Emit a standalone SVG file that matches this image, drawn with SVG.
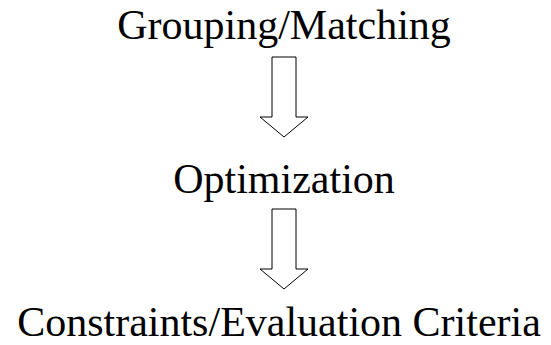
<svg xmlns="http://www.w3.org/2000/svg" width="551" height="345" viewBox="0 0 551 345">
<style>
text{font-family:"Liberation Serif","Times New Roman",serif;font-size:42px;fill:#000;text-anchor:middle}
.arrow{fill:#fff;stroke:#000;stroke-width:1}
</style>
<rect width="551" height="345" fill="#fff"/>
<g id="grouping"><text x="284" y="39">Grouping/Matching</text></g>
<g id="optimization"><text x="284" y="193">Optimization</text></g>
<g id="constraints"><text x="279" y="336">Constraints/Evaluation Criteria</text></g>
<g id="connectors">
<path class="arrow" d="M272,57 H296 V117 H308 L284,137 L260,117 H272 Z"/>
<path class="arrow" d="M272,209 H296 V269 H308 L284,289 L260,269 H272 Z"/>
</g>
</svg>
